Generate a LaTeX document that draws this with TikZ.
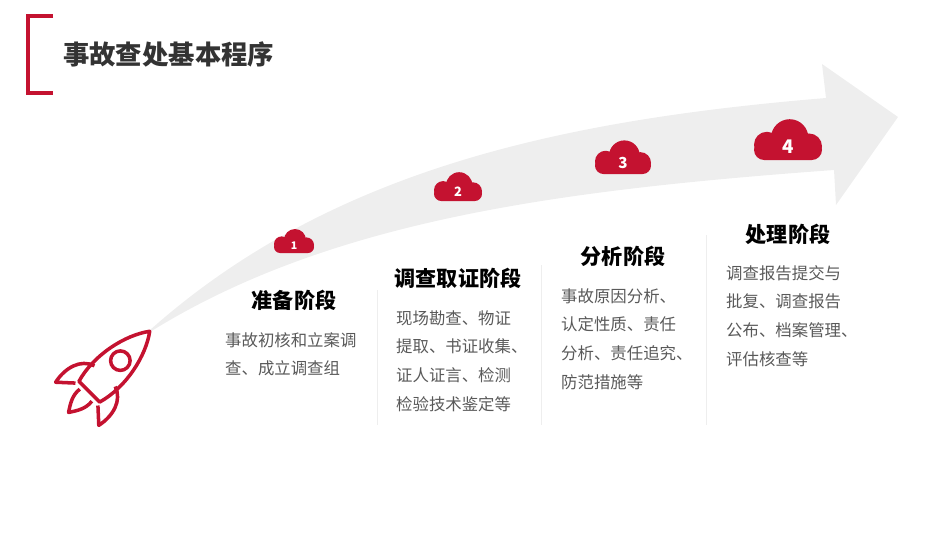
\documentclass[tikz,border=0pt]{standalone}
\usepackage{fontspec}
\setmainfont{Noto Sans CJK SC}
\usetikzlibrary{positioning}
\definecolor{hired}{RGB}{196,18,48}
\definecolor{band}{RGB}{238,238,238}
\definecolor{txtgray}{RGB}{89,89,89}

\begin{document}
\begin{tikzpicture}[
            x=0.03cm, y=-0.03cm,
            head/.style={font=\fontsize{18}{20}\selectfont\bfseries, text=black},
            body/.style={font=\fontsize{14}{24.5}\selectfont, text=txtgray, align=left, anchor=north west, inner sep=0pt},
            sep/.style={draw=band, line width=0.8pt}
        ]
        \useasboundingbox (0,0) rectangle (950,535);
        % title
        \draw[hired, line width=3pt] (53,16) -- (28,16) -- (28,93) -- (53,93);
        \node[anchor=west, font=\fontsize{22.5}{26}\selectfont\bfseries, text=black!80, inner sep=0pt] (title) at (63,54) {事故查处基本程序};
        % arrow band
        \fill[band] (150,330) .. controls (330,170) and (560,120) .. (826,98)
            -- (822,64) -- (898,117) -- (836,205) -- (834,170)
            .. controls (560,190) and (330,220) .. (150,332) -- cycle;
        % clouds
        \foreach \cx/\cy/\cs/\n/\fs in {294/243/20/1/9, 458/189/24/2/11, 623/160/28/3/13, 788/143/34/4/16}{
            \fill[hired, rounded corners=0.3*\cs*0.03cm] (\cx-\cs,\cy+0.5*\cs) rectangle (\cx+\cs,\cy-0.1*\cs);
            \fill[hired] (\cx-0.62*\cs,\cy+0.05*\cs) circle ({0.38*\cs*0.03cm});
            \fill[hired] (\cx+0.62*\cs,\cy+0.1*\cs) circle ({0.38*\cs*0.03cm});
            \fill[hired] (\cx+0.05*\cs,\cy-0.15*\cs) circle ({0.55*\cs*0.03cm});
            \node[text=white, font=\fontsize{\fs}{\fs}\selectfont\bfseries] (c\n) at (\cx,\cy+0.12*\cs) {\n};
        }
        % separators
        \draw[sep] (377,290) -- (377,425);
        \draw[sep] (541,265) -- (541,425);
        \draw[sep] (706,235) -- (706,425);
        % stages
        \node[head] (h1) at (294,300) {准备阶段};
        \node[head] (h2) at (458,278) {调查取证阶段};
        \node[head] (h3) at (623,256) {分析阶段};
        \node[head] (h4) at (788,234) {处理阶段};
        \node[body] (t1) at (225,332) {事故初核和立案调\\查、成立调查组};
        \node[body] (t2) at (396,310) {现场勘查、物证\\提取、书证收集、\\证人证言、检测\\检验技术鉴定等};
        \node[body] (t3) at (561,288) {事故原因分析、\\认定性质、责任\\分析、责任追究、\\防范措施等};
        \node[body] (t4) at (726,265) {调查报告提交与\\批复、调查报告\\公布、档案管理、\\评估核查等};
        % rocket
        \begin{scope}[shift={(110,371)}, rotate=-45, scale=1.22, hired, line width=3pt, line join=round]
            \draw (-12,24) .. controls (-19,0) and (-12,-30) .. (0,-46)
                .. controls (12,-30) and (19,0) .. (12,24) -- cycle;
            \draw (0,-12) circle (8);
            \draw (-12,6) .. controls (-24,10) and (-28,24) .. (-25,38) -- (-13,27);
            \draw (12,6) .. controls (24,10) and (28,24) .. (25,38) -- (13,27);
            \draw (-7,28) .. controls (-8,36) and (-4,42) .. (0,48) .. controls (4,42) and (8,36) .. (7,28);
        \end{scope}
\end{tikzpicture}
\end{document}
